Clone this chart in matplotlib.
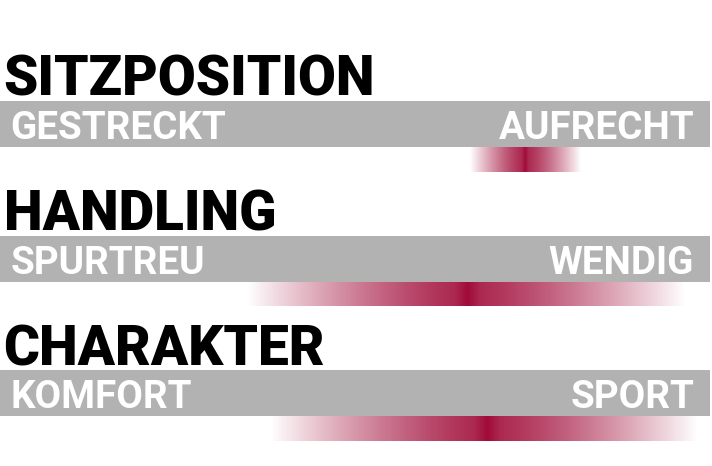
import numpy as np
import matplotlib.pyplot as plt

# criteria, scale end labels, and rating spread on a 0..100 scale
titles = ["SITZPOSITION", "HANDLING", "CHARAKTER"]
left_labels = ["GESTRECKT", "SPURTREU", "KOMFORT"]
right_labels = ["AUFRECHT", "WENDIG", "SPORT"]
spread_low = [66.2, 34.8, 38.0]
spread_peak = [73.9, 65.8, 68.6]
spread_high = [81.7, 96.5, 98.2]

GRAY = "#b2b2b2"
RED = (0.63, 0.04, 0.22)
FONT = ["Roboto", "DejaVu Sans"]

W, H = 712, 466
fig = plt.figure(figsize=(W / 100, H / 100), dpi=100)
ax = fig.add_axes([0, 0, 1, 1])
px = 100 / 710  # score units per pixel
ax.set_xlim(0, W * px)
ax.set_ylim(H, 0)
ax.axis('off')

for i in range(len(titles)):
    bar_top = 101 + i * 134.5
    bar_h = 46
    red_h = 25

    ax.text(0.5, bar_top - 5, titles[i], ha='left', va='baseline',
            fontsize=39.5, fontweight='black', family=FONT, color='black')

    ax.barh(bar_top + bar_h / 2, 100, height=bar_h, left=0,
            color=GRAY, edgecolor='none')

    ax.text(10.5 * px, bar_top + 38, left_labels[i], ha='left',
            va='baseline', fontsize=27.8, fontweight='bold', family=FONT,
            color='white')
    ax.text(694 * px, bar_top + 38, right_labels[i], ha='right',
            va='baseline', fontsize=27.8, fontweight='bold', family=FONT,
            color='white')

    # gradient strip fading from the peak towards both ends
    lo, pk, hi = spread_low[i], spread_peak[i], spread_high[i]
    xs = np.linspace(lo, hi, 600)
    t = np.where(xs < pk, (pk - xs) / (pk - lo), (xs - pk) / (hi - pk))
    alpha = 0.9 * (1 - t ** 1.3) + 0.1 * np.clip(1 - t / 0.06, 0, 1)
    img = np.zeros((1, xs.size, 4))
    img[..., 0], img[..., 1], img[..., 2] = RED
    img[..., 3] = np.clip(alpha, 0, 1)
    y0 = bar_top + bar_h
    ax.imshow(img, extent=(lo, hi, y0 + red_h, y0), aspect='auto',
              interpolation='bilinear')

ax.set_xlim(0, W * px)
ax.set_ylim(H, 0)
fig.savefig('out.png', dpi=100)
